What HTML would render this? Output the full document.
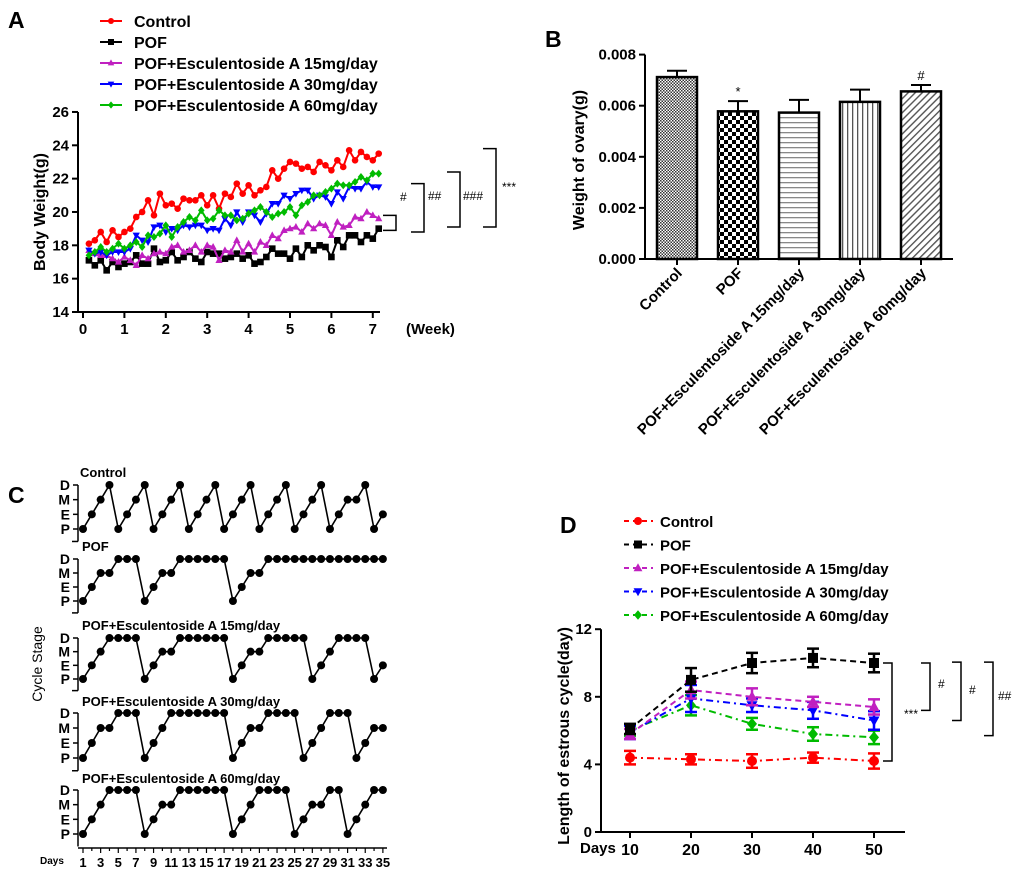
<!DOCTYPE html>
<html><head><meta charset="utf-8"><style>
html,body{margin:0;padding:0;background:#fff;}
svg{display:block;font-family:"Liberation Sans",Arial,sans-serif;font-weight:bold;}
</style></head><body>
<svg id="fig" width="1020" height="878" viewBox="0 0 1020 878" xmlns="http://www.w3.org/2000/svg">
<defs>
<pattern id="pCtrl" width="3" height="3" patternUnits="userSpaceOnUse"><rect width="3" height="3" fill="#fff"/><rect width="1.5" height="1.5" fill="#333"/><rect x="1.5" y="1.5" width="1.5" height="1.5" fill="#333"/></pattern>
<pattern id="pPof" width="8" height="8" patternUnits="userSpaceOnUse"><rect width="8" height="8" fill="#fff"/><rect width="4" height="4" fill="#000"/><rect x="4" y="4" width="4" height="4" fill="#000"/></pattern>
<pattern id="pH" width="6" height="5" patternUnits="userSpaceOnUse"><rect width="6" height="5" fill="#fff"/><rect y="2" width="6" height="1.3" fill="#888"/></pattern>
<pattern id="pV" width="5" height="6" patternUnits="userSpaceOnUse"><rect width="5" height="6" fill="#fff"/><rect x="2" width="1.3" height="6" fill="#555"/></pattern>
<pattern id="pD" width="5" height="5" patternUnits="userSpaceOnUse" patternTransform="rotate(45)"><rect width="5" height="5" fill="#fff"/><rect x="2" width="1.4" height="5" fill="#555"/></pattern>
</defs>
<g id="gA"></g>
<g id="gB"></g>
<g id="gC"></g>
<g id="gD"></g>
</svg>
<script>
// ---------- Panel A data ----------
const aSeriesNames = ["Control","POF","POF+Esculentoside A 15mg/day","POF+Esculentoside A 30mg/day","POF+Esculentoside A 60mg/day"];
const aYTicks = [14,16,18,20,22,24,26];
const aXTicks = [0,1,2,3,4,5,6,7];
const aControl = [18.1,18.3,18.8,18.2,18.9,18.5,18.8,19.0,19.7,20.0,20.7,19.8,21.1,20.4,20.5,20.2,20.8,20.7,20.7,21.0,20.4,21.0,20.2,21.1,20.9,21.7,21.1,21.6,21.0,21.3,21.5,22.5,22.0,22.6,23.0,22.9,22.6,22.7,22.4,23.0,22.8,22.5,23.1,22.7,23.7,23.1,23.6,23.3,23.1,23.5];
const aPOF = [17.1,16.8,17.1,16.5,17.0,16.7,16.9,17.0,17.4,16.9,16.9,17.8,17.0,17.1,17.6,17.1,17.3,17.6,17.2,17.0,17.6,17.5,17.5,17.2,17.3,17.5,17.2,17.4,16.9,17.0,17.3,17.8,17.5,17.5,17.2,17.8,17.3,18.0,17.7,18.0,17.9,17.3,18.3,17.9,18.6,18.6,18.2,18.6,18.4,19.0];
const aE15 = [17.7,17.5,17.4,17.4,17.2,17.0,17.3,17.1,16.8,17.4,17.2,17.5,17.6,17.5,17.9,18.0,17.6,17.7,18.0,17.6,18.0,17.9,17.1,17.7,17.6,18.3,17.6,18.1,17.6,18.2,18.0,18.6,18.4,18.9,19.0,19.1,18.8,19.3,19.0,19.3,19.2,18.6,19.4,19.1,19.2,19.7,19.6,20.0,19.8,19.6];
const aE30 = [17.7,17.5,17.6,17.4,17.6,17.6,17.6,17.8,18.6,18.3,18.2,19.1,19.2,18.8,19.0,18.9,19.2,19.1,19.2,19.2,18.9,19.0,18.9,19.6,19.2,20.0,19.4,20.0,19.8,19.4,19.9,20.5,20.5,21.0,20.8,21.1,21.3,21.3,20.8,21.0,20.9,20.5,21.2,20.8,21.5,21.4,21.4,21.8,21.5,21.5];
const aE60 = [17.4,17.6,17.9,17.6,17.8,18.1,17.8,18.0,18.2,17.9,18.6,18.5,18.7,19.2,18.5,19.1,19.4,19.7,19.5,20.1,19.5,19.6,20.1,19.8,19.8,19.5,19.6,19.9,20.1,20.3,20.0,19.7,19.9,20.0,20.3,19.8,20.4,20.6,21.0,21.0,21.2,21.4,21.7,21.6,21.6,21.8,22.1,21.9,22.3,22.3];
// ---------- Panel B data ----------
const bCategories = ["Control","POF","POF+Esculentoside A 15mg/day","POF+Esculentoside A 30mg/day","POF+Esculentoside A 60mg/day"];
const bValues = [0.00712,0.00578,0.00573,0.00615,0.00656];
const bErrors = [0.00025,0.00040,0.00050,0.00048,0.00025];
const bMarks = ["","*","","","#"];
const bYTicks = ["0.000","0.002","0.004","0.006","0.008"];
// ---------- Panel C data (1=P,2=E,3=M,4=D) ----------
const cNames = ["Control","POF","POF+Esculentoside A 15mg/day","POF+Esculentoside A 30mg/day","POF+Esculentoside A 60mg/day"];
const cControl = [1,2,3,4,1,2,3,4,1,2,3,4,1,2,3,4,1,2,3,4,1,2,3,4,1,2,3,4,1,2,3,3,4,1,2];
const cPOF = [1,2,3,3,4,4,4,1,2,3,3,4,4,4,4,4,4,1,2,3,3,4,4,4,4,4,4,4,4,4,4,4,4,4,4];
const cE15 = [1,2,3,4,4,4,4,1,2,3,3,4,4,4,4,4,4,1,2,3,3,4,4,4,4,4,1,2,3,4,4,4,4,1,2];
const cE30 = [1,2,3,3,4,4,4,1,2,3,4,4,4,4,4,4,4,1,2,3,3,4,4,4,4,1,2,3,4,4,4,1,2,3,3];
const cE60 = [1,2,3,4,4,4,4,1,2,3,3,4,4,4,4,4,4,1,2,3,4,4,4,4,1,2,3,3,4,4,1,2,3,4,4];
const cStageLabels = ["P","E","M","D"];
const cDayTicks = [1,3,5,7,9,11,13,15,17,19,21,23,25,27,29,31,33,35];
// ---------- Panel D data ----------
const dDays = [10,20,30,40,50];
const dYTicks = [0,4,8,12];
const dControl = [4.4,4.3,4.2,4.4,4.2];
const dPOF = [6.1,9.0,10.0,10.3,10.0];
const dE15 = [5.8,8.4,8.0,7.7,7.4];
const dE30 = [5.9,7.9,7.5,7.2,6.6];
const dE60 = [6.0,7.5,6.4,5.8,5.6];
const dErrControl = [0.4,0.3,0.4,0.3,0.45];
const dErrPOF = [0.3,0.7,0.6,0.55,0.55];
const dErrE15 = [0.3,0.5,0.5,0.3,0.45];
const dErrE30 = [0.4,0.8,0.4,0.5,0.55];
const dErrE60 = [0.3,0.6,0.35,0.4,0.4];

const NS="http://www.w3.org/2000/svg";
function mk(parent,tag,attrs,text){const e=document.createElementNS(NS,tag);for(const k in attrs)e.setAttribute(k,attrs[k]);if(text!==undefined)e.textContent=text;parent.appendChild(e);return e;}
function marker(g,shape,x,y,c,s){
  let e;
  if(shape==="circle") e=mk(g,"circle",{cx:x,cy:y,r:s,fill:c});
  else if(shape==="square") e=mk(g,"rect",{x:x-s,y:y-s,width:2*s,height:2*s,fill:c});
  else if(shape==="tri") e=mk(g,"polygon",{points:`${x},${y-s*1.2} ${x-s*1.1},${y+s*0.8} ${x+s*1.1},${y+s*0.8}`,fill:c});
  else if(shape==="tridown") e=mk(g,"polygon",{points:`${x},${y+s*1.2} ${x-s*1.1},${y-s*0.8} ${x+s*1.1},${y-s*0.8}`,fill:c});
  else e=mk(g,"polygon",{points:`${x},${y-s*1.2} ${x+s},${y} ${x},${y+s*1.2} ${x-s},${y}`,fill:c});
  return e;
}
const colors=["#ff0000","#000000","#c020c0","#0000ff","#00bb00"];
const shapes=["circle","square","tri","tridown","diamond"];

// ===== Panel A =====
(function(){
const g=document.getElementById("gA");
const X=v=>83+v*41.4, Y=v=>312-(v-14)*16.67;
let t=mk(g,"text",{x:8,y:28,"font-size":23},"A");

aSeriesNames.forEach((n,i)=>{
  const y=21+i*21;
  const lg=mk(g,"g",{});
  
  mk(lg,"line",{x1:100,y1:y,x2:122,y2:y,stroke:colors[i],"stroke-width":2});
  marker(lg,shapes[i],111,y,colors[i],3);
  mk(lg,"text",{x:134,y:y+6,"font-size":16},n);
});
const ax=mk(g,"g",{});

mk(ax,"line",{x1:78,y1:Y(26),x2:78,y2:312,stroke:"#000","stroke-width":2});
mk(ax,"line",{x1:77,y1:312,x2:380,y2:312,stroke:"#000","stroke-width":2});
aYTicks.forEach(v=>{mk(ax,"line",{x1:72,y1:Y(v),x2:78,y2:Y(v),stroke:"#000","stroke-width":2});mk(ax,"text",{x:69,y:Y(v)+5,"font-size":15,"text-anchor":"end"},v);});
aXTicks.forEach(v=>{mk(ax,"line",{x1:X(v),y1:312,x2:X(v),y2:318,stroke:"#000","stroke-width":2});mk(ax,"text",{x:X(v),y:334,"font-size":15,"text-anchor":"middle"},v);});
mk(ax,"text",{x:406,y:334,"font-size":15},"(Week)");
t=mk(g,"text",{x:0,y:0,"font-size":16,"text-anchor":"middle",transform:"translate(45,212) rotate(-90)"},"Body Weight(g)");

[aControl,aPOF,aE15,aE30,aE60].forEach((arr,i)=>{
  const sg=mk(g,"g",{});
  
  const pts=arr.map((v,j)=>`${X((j+1)/7)},${Y(v)}`).join(" ");
  mk(sg,"polyline",{points:pts,fill:"none",stroke:colors[i],"stroke-width":2});
  arr.forEach((v,j)=>marker(sg,shapes[i],X((j+1)/7),Y(v),colors[i],3.3));
});
const br=[[396,Y(19.8),Y(18.9),"#",400,201],[424,Y(21.7),Y(18.8),"##",428,200],[460,Y(22.4),Y(19.1),"###",463,200],[496,Y(23.8),Y(19.1),"***",502,191]];
br.forEach(b=>{
  const bg=mk(g,"g",{});
  
  mk(bg,"polyline",{points:`${b[0]-13},${b[1]} ${b[0]},${b[1]} ${b[0]},${b[2]} ${b[0]-13},${b[2]}`,fill:"none",stroke:"#000","stroke-width":1.5});
  mk(bg,"text",{x:b[4],y:b[5],"font-size":12,"font-weight":"normal"},b[3]);
});
})();

// ===== Panel B =====
(function(){
const g=document.getElementById("gB");
const Y=v=>259-v/0.002*51.1;
let t=mk(g,"text",{x:545,y:47,"font-size":23},"B");

const ax=mk(g,"g",{});

mk(ax,"line",{x1:645,y1:Y(0.008),x2:645,y2:259,stroke:"#000","stroke-width":2});
mk(ax,"line",{x1:644,y1:259,x2:953,y2:259,stroke:"#000","stroke-width":2});
bYTicks.forEach(s=>{const v=parseFloat(s);mk(ax,"line",{x1:639,y1:Y(v),x2:645,y2:Y(v),stroke:"#000","stroke-width":2});mk(ax,"text",{x:636,y:Y(v)+5,"font-size":15,"text-anchor":"end"},s);});
t=mk(g,"text",{x:0,y:0,"font-size":16,"text-anchor":"middle",transform:"translate(584,160) rotate(-90)"},"Weight of ovary(g)");

const fills=["url(#pCtrl)","url(#pPof)","url(#pH)","url(#pV)","url(#pD)"];
bCategories.forEach((c,i)=>{
  const cx=677+i*61;
  const bg=mk(g,"g",{});
  
  const top=Y(bValues[i]), et=Y(bValues[i]+bErrors[i]);
  mk(bg,"line",{x1:cx,y1:top,x2:cx,y2:et,stroke:"#000","stroke-width":2});
  mk(bg,"line",{x1:cx-10,y1:et,x2:cx+10,y2:et,stroke:"#000","stroke-width":2});
  mk(bg,"rect",{x:cx-20,y:top,width:40,height:259-top,fill:fills[i],stroke:"#000","stroke-width":2.5});
  mk(bg,"line",{x1:cx,y1:259,x2:cx,y2:265,stroke:"#000","stroke-width":2});
  if(bMarks[i]) mk(bg,"text",{x:cx,y:et-5,"font-size":13,"font-weight":"normal","text-anchor":"middle"},bMarks[i]);
  const lt=mk(g,"text",{x:0,y:0,"font-size":15,"text-anchor":"end",transform:`translate(${cx+6},${274}) rotate(-45)`},c);
  
});
})();

// ===== Panel C =====
(function(){
const g=document.getElementById("gC");
let t=mk(g,"text",{x:8,y:503,"font-size":23},"C");

const X=d=>83+(d-1)*8.82;
const sub=[[485,529],[559,601],[638,679],[713,758],[790,834]];
const titleY=[477,551,630,706,783];
[cControl,cPOF,cE15,cE30,cE60].forEach((arr,i)=>{
  const sg=mk(g,"g",{});
  
  const [yD,yP]=sub[i]; const step=(yP-yD)/3;
  const Y=s=>yP-(s-1)*step;
  mk(sg,"text",{x:i===0?80:82,y:titleY[i],"font-size":13},cNames[i]);
  mk(sg,"line",{x1:78,y1:yD,x2:78,y2:yP+step*0.85,stroke:"#000","stroke-width":1.5});
  if(i<4) mk(sg,"line",{x1:78,y1:yP+step*0.85,x2:72,y2:yP+step*0.85,stroke:"#000","stroke-width":1.5});
  cStageLabels.forEach((l,k)=>{mk(sg,"line",{x1:73,y1:Y(k+1),x2:78,y2:Y(k+1),stroke:"#000","stroke-width":1.5});mk(sg,"text",{x:70,y:Y(k+1)+5,"font-size":14,"text-anchor":"end"},l);});
  mk(sg,"polyline",{points:arr.map((s,j)=>`${X(j+1)},${Y(s)}`).join(" "),fill:"none",stroke:"#000","stroke-width":1.6});
  arr.forEach((s,j)=>mk(sg,"circle",{cx:X(j+1),cy:Y(s),r:4,fill:"#000"}));
});
const ax=mk(g,"g",{});

mk(ax,"line",{x1:78,y1:848,x2:387,y2:848,stroke:"#000","stroke-width":1.5});
for(let d=1;d<=35;d++) mk(ax,"line",{x1:X(d),y1:848,x2:X(d),y2:d%2?853:851,stroke:"#000","stroke-width":1.2});
cDayTicks.forEach(d=>mk(ax,"text",{x:X(d),y:867,"font-size":13,"text-anchor":"middle"},d));
mk(ax,"text",{x:40,y:864,"font-size":10},"Days");
t=mk(g,"text",{x:0,y:0,"font-size":14,"font-weight":"normal","text-anchor":"middle",transform:"translate(42,664) rotate(-90)"},"Cycle Stage");

})();

// ===== Panel D =====
(function(){
const g=document.getElementById("gD");
const X=d=>630+(d-10)*6.1, Y=v=>832-v*16.9;
let t=mk(g,"text",{x:560,y:533,"font-size":23},"D");

const dashes=["7,4,2,4","6,4","6,4","7,4,2,4","7,4,2,4"];
aSeriesNames.forEach((n,i)=>{
  const y=521+i*23.5;
  const lg=mk(g,"g",{});
  
  mk(lg,"line",{x1:624,y1:y,x2:653,y2:y,stroke:colors[i],"stroke-width":2,"stroke-dasharray":"5,4"});
  marker(lg,shapes[i],638,y,colors[i],4);
  mk(lg,"text",{x:660,y:y+6,"font-size":15},n);
});
const ax=mk(g,"g",{});

mk(ax,"line",{x1:601,y1:Y(12),x2:601,y2:832,stroke:"#000","stroke-width":2});
mk(ax,"line",{x1:600,y1:832,x2:905,y2:832,stroke:"#000","stroke-width":2});
dYTicks.forEach(v=>{mk(ax,"line",{x1:595,y1:Y(v),x2:601,y2:Y(v),stroke:"#000","stroke-width":2});mk(ax,"text",{x:592,y:Y(v)+5,"font-size":15,"text-anchor":"end"},v);});
dDays.forEach(d=>{mk(ax,"line",{x1:X(d),y1:832,x2:X(d),y2:838,stroke:"#000","stroke-width":2});mk(ax,"text",{x:X(d),y:855,"font-size":16,"text-anchor":"middle"},d);});
mk(ax,"text",{x:580,y:853,"font-size":15},"Days");
t=mk(g,"text",{x:0,y:0,"font-size":16,"text-anchor":"middle",transform:"translate(569,736) rotate(-90)"},"Length of estrous cycle(day)");

const vals=[dControl,dPOF,dE15,dE30,dE60], errs=[dErrControl,dErrPOF,dErrE15,dErrE30,dErrE60];
[4,3,2,0,1].forEach(i=>{
  const sg=mk(g,"g",{});
  
  mk(sg,"polyline",{points:vals[i].map((v,j)=>`${X(dDays[j])},${Y(v)}`).join(" "),fill:"none",stroke:colors[i],"stroke-width":2,"stroke-dasharray":dashes[i]});
  vals[i].forEach((v,j)=>{
    const x=X(dDays[j]),e=errs[i][j];
    mk(sg,"line",{x1:x,y1:Y(v-e),x2:x,y2:Y(v+e),stroke:colors[i],"stroke-width":2.5});
    mk(sg,"line",{x1:x-6,y1:Y(v+e),x2:x+6,y2:Y(v+e),stroke:colors[i],"stroke-width":2.5});
    mk(sg,"line",{x1:x-6,y1:Y(v-e),x2:x+6,y2:Y(v-e),stroke:colors[i],"stroke-width":2.5});
    marker(sg,shapes[i],x,Y(v),colors[i],5);
  });
});
const br=[[892,Y(10),Y(4.2),"***",896,718],[930,Y(10),Y(7.2),"#",938,688],[961,Y(10.05),Y(6.6),"#",969,694],[993,Y(10.05),Y(5.7),"##",998,700]];
br.forEach((b,k)=>{
  const bg=mk(g,"g",{});
  
  mk(bg,"polyline",{points:`${b[0]-9},${b[1]} ${b[0]},${b[1]} ${b[0]},${b[2]} ${b[0]-9},${b[2]}`,fill:"none",stroke:"#000","stroke-width":1.5});
  mk(bg,"text",{x:k===0?b[0]+26:b[4],y:b[5],"font-size":12,"font-weight":"normal","text-anchor":k===0?"end":"start"},b[3]);
});
})();
</script>
</body></html>
